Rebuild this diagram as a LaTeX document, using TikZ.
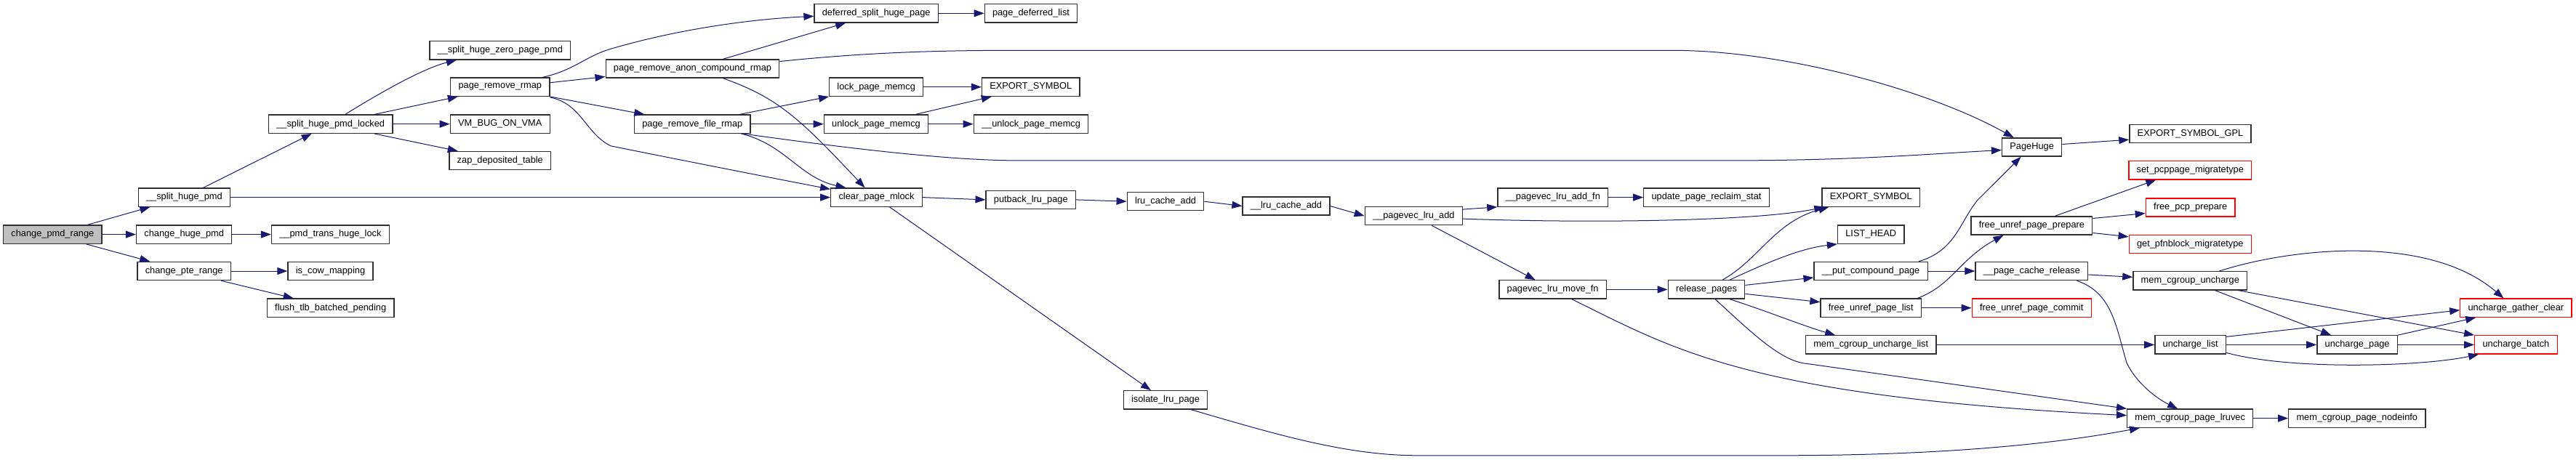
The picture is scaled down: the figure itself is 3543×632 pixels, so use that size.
\documentclass[tikz,border=0pt]{standalone}
\usepackage{fontspec}
\setmainfont{Liberation Sans}
\usetikzlibrary{calc,arrows.meta}
\definecolor{callblue}{HTML}{191970}
\definecolor{curgray}{HTML}{BFBFBF}
\definecolor{missred}{HTML}{FF0000}
\definecolor{boxline}{HTML}{303030}
\tikzset{
  fn/.style={draw=boxline,fill=white,line width=0.65pt,inner xsep=5.4pt,inner ysep=0pt,
             minimum height=12.6pt,font=\fontsize{6.4}{7.7}\selectfont},
  fnred/.style={fn,draw=missred},
  fncur/.style={fn,fill=curgray},
  call/.style={draw=callblue,line width=0.5pt,-{Triangle[length=7pt,width=5pt,fill=callblue]}},
}
\newcommand{\fnbox}[5]{\node[#1] (#2) at (#3,#4) {#5};}
\begin{document}
\begin{tikzpicture}[x=0.5pt,y=-0.5pt]
  \fill[white] (0,0) rectangle (3543,632);
  \useasboundingbox (0,0) rectangle (3543,632);
  \fnbox{fncur}{cpr}{72.4}{322.6}{change\_pmd\_range}
  \fnbox{fn}{shp}{253.4}{271.6}{\_\_split\_huge\_pmd}
  \fnbox{fn}{chp}{253.2}{322.6}{change\_huge\_pmd}
  \fnbox{fn}{cpter}{253.2}{373}{change\_pte\_range}
  \fnbox{fn}{shpl}{454.7}{170.7}{\_\_split\_huge\_pmd\_locked}
  \fnbox{fn}{pthl}{454.4}{322.6}{\_\_pmd\_trans\_huge\_lock}
  \fnbox{fn}{icm}{454.5}{373}{is\_cow\_mapping}
  \fnbox{fn}{ftbp}{454.7}{423.7}{flush\_tlb\_batched\_pending}
  \fnbox{fn}{shzp}{687.8}{69.3}{\_\_split\_huge\_zero\_page\_pmd}
  \fnbox{fn}{prr}{687.8}{119.7}{page\_remove\_rmap}
  \fnbox{fn}{vbov}{687.8}{170.7}{VM\_BUG\_ON\_VMA}
  \fnbox{fn}{zdt}{687.8}{221.1}{zap\_deposited\_table}
  \fnbox{fn}{pracr}{952.5}{94.5}{page\_remove\_anon\_compound\_rmap}
  \fnbox{fn}{prfr}{952.3}{170.7}{page\_remove\_file\_rmap}
  \fnbox{fn}{dshp}{1205.2}{18.3}{deferred\_split\_huge\_page}
  \fnbox{fn}{lpm}{1205.2}{119.7}{lock\_page\_memcg}
  \fnbox{fn}{ulpm}{1205}{170.7}{unlock\_page\_memcg}
  \fnbox{fn}{cpm}{1205.5}{271.6}{clear\_page\_mlock}
  \fnbox{fn}{pdl}{1418}{18.3}{page\_deferred\_list}
  \fnbox{fn}{exsa}{1417.8}{119.7}{EXPORT\_SYMBOL}
  \fnbox{fn}{uulpm}{1418}{170.7}{\_\_unlock\_page\_memcg}
  \fnbox{fn}{plp}{1417.8}{274.9}{putback\_lru\_page}
  \fnbox{fn}{lca}{1603}{277.2}{lru\_cache\_add}
  \fnbox{fn}{ulca}{1769}{283.5}{\_\_lru\_cache\_add}
  \fnbox{fn}{ilp}{1603}{550.4}{isolate\_lru\_page}
  \fnbox{fn}{upla}{1944.3}{297.1}{\_\_pagevec\_lru\_add}
  \fnbox{fn}{uplaf}{2135.8}{271.6}{\_\_pagevec\_lru\_add\_fn}
  \fnbox{fn}{uprs}{2347}{271.6}{update\_page\_reclaim\_stat}
  \fnbox{fn}{plmf}{2135.6}{398.4}{pagevec\_lru\_move\_fn}
  \fnbox{fn}{rp}{2347}{398.4}{release\_pages}
  \fnbox{fn}{exsb}{2573.2}{271.6}{EXPORT\_SYMBOL}
  \fnbox{fn}{lh}{2573.2}{322.6}{LIST\_HEAD}
  \fnbox{fn}{upcp}{2573.1}{373}{\_\_put\_compound\_page}
  \fnbox{fn}{fupl}{2573.2}{423.7}{free\_unref\_page\_list}
  \fnbox{fn}{mcul}{2573.2}{474.4}{mem\_cgroup\_uncharge\_list}
  \fnbox{fn}{ph}{2794.6}{202.5}{PageHuge}
  \fnbox{fn}{fupp}{2794.4}{310.5}{free\_unref\_page\_prepare}
  \fnbox{fn}{upcr}{2794.4}{373}{\_\_page\_cache\_release}
  \fnbox{fnred}{fupc}{2794.2}{423.7}{free\_unref\_page\_commit}
  \fnbox{fn}{exsg}{3012.5}{184.2}{EXPORT\_SYMBOL\_GPL}
  \fnbox{fnred}{spm}{3012.3}{234.3}{set\_pcppage\_migratetype}
  \fnbox{fnred}{fpp}{3012.7}{285.5}{free\_pcp\_prepare}
  \fnbox{fnred}{gpm}{3012.3}{335.8}{get\_pfnblock\_migratetype}
  \fnbox{fn}{mcu}{3012.3}{386.3}{mem\_cgroup\_uncharge}
  \fnbox{fn}{ul}{3012.7}{474.4}{uncharge\_list}
  \fnbox{fn}{mcpl}{3012.2}{575.6}{mem\_cgroup\_page\_lruvec}
  \fnbox{fn}{upg}{3242.1}{474.4}{uncharge\_page}
  \fnbox{fnred}{ugc}{3460.4}{423.7}{uncharge\_gather\_clear}
  \fnbox{fnred}{ub}{3460.4}{474.4}{uncharge\_batch}
  \fnbox{fn}{mcpn}{3241.8}{575.6}{mem\_cgroup\_page\_nodeinfo}
  \draw[call] ($(cpr.north)+(48,0)$) -- ($(shp.south)+(-47,0)$);
  \draw[call] (cpr.east) -- (chp.west);
  \draw[call] ($(cpr.south)+(46,0)$) -- ($(cpter.north)+(-47,0)$);
  \draw[call] ($(shp.north)+(26,0)$) -- ($(shpl.south)+(-26,0)$);
  \draw[call] (shp.east) -- (cpm.west);
  \draw[call] (chp.east) -- (pthl.west);
  \draw[call] (cpter.east) -- (icm.west);
  \draw[call] ($(cpter.south)+(51,0)$) -- ($(ftbp.north)+(-51,0)$);
  \draw[call] ($(shpl.north)+(20,0)$) .. controls (520,129.4) and (580,94.8) .. ($(shzp.south)+(-60,0)$);
  \draw[call] ($(shpl.north)+(60,0)$) -- ($(prr.south)+(-58,0)$);
  \draw[call] (shpl.east) -- (vbov.west);
  \draw[call] ($(shpl.south)+(60,0)$) -- ($(zdt.north)+(-58,0)$);
  \draw[call] ($(prr.north)+(58,0)$) .. controls (790,96.8) and (805,77.5) .. (840,67.3) .. controls (930,40.8) and (1030,26.5) .. ($(dshp.west)+(0,4)$);
  \draw[call] ($(prr.east)+(0,-6)$) -- ($(pracr.west)+(0,11)$);
  \draw[call] (prr.south east) -- ($(prfr.north)+(-66,0)$);
  \draw[call] ($(prr.south east)+(0,1)$) .. controls (800,142.7) and (805,183.5) .. (840,200.8) .. controls (900,213) and (1050,242.6) .. ($(cpm.north west)+(0,2)$);
  \draw[call] ($(pracr.north)+(42,0)$) -- ($(dshp.south)+(-42,0)$);
  \draw[call] ($(pracr.east)+(0,-10)$) .. controls (1200,71.3) and (1300,69.3) .. (1400,69.3) -- (2300,69.3) .. controls (2450,69.3) and (2650,122.3) .. ($(ph.north)+(-25,0)$);
  \draw[call] ($(pracr.south)+(42,0)$) .. controls (1070,134.5) and (1100,163.1) .. ($(cpm.north)+(-16,0)$);
  \draw[call] ($(prfr.north)+(65,0)$) -- (lpm.south west);
  \draw[call] (prfr.east) -- (ulpm.west);
  \draw[call] ($(prfr.south)+(67,0)$) .. controls (1080,198.7) and (1100,244.6) .. ($(cpm.north)+(-42,0)$);
  \draw[call] ($(prfr.south)+(69,0)$) .. controls (1150,201.8) and (1300,220.9) .. (1400,220.9) -- (2380,220.9) .. controls (2550,220.9) and (2650,212) .. ($(ph.west)+(0,4)$);
  \draw[call] (dshp.east) -- (pdl.west);
  \draw[call] (lpm.east) -- (exsa.west);
  \draw[call] ($(ulpm.north)+(54,0)$) -- ($(exsa.south)+(-54,0)$);
  \draw[call] (ulpm.east) -- (uulpm.west);
  \draw[call] (cpm.east) -- (plp.west);
  \draw[call] ($(cpm.south)+(18,0)$) -- ($(ilp.north)+(-20,0)$);
  \draw[call] (plp.east) -- (lca.west);
  \draw[call] (lca.east) -- (ulca.west);
  \draw[call] ($(ilp.south)+(35,0)$) .. controls (1750,596.2) and (1850,626.8) .. (1950,626.8) -- (2450,626.8) .. controls (2700,626.8) and (2850,606.4) .. ($(mcpl.south west)+(18,0)$);
  \draw[call] (ulca.east) -- (upla.west);
  \draw[call] ($(upla.east)+(0,-9)$) -- (uplaf.south west);
  \draw[call] ($(upla.east)+(0,4)$) .. controls (2200,307.8) and (2420,303.7) .. ($(exsb.south west)+(4,0)$);
  \draw[call] ($(upla.south)+(25,0)$) -- ($(plmf.north)+(-24,0)$);
  \draw[call] (uplaf.east) -- (uprs.west);
  \draw[call] (plmf.east) -- (rp.west);
  \draw[call] ($(plmf.south)+(26,0)$) .. controls (2300,479) and (2400,545.3) .. ($(mcpl.west)+(0,-4)$);
  \draw[call] ($(rp.north)+(22,0)$) .. controls (2420,356.7) and (2440,305.8) .. ($(exsb.south west)+(10,0)$);
  \draw[call] ($(rp.north)+(32,0)$) .. controls (2440,356.7) and (2480,341.4) .. (lh.south west);
  \draw[call] ($(rp.east)+(0,-6)$) -- ($(upcp.west)+(0,9)$);
  \draw[call] ($(rp.east)+(0,6)$) -- ($(fupl.west)+(0,-8)$);
  \draw[call] ($(rp.south)+(32,0)$) .. controls (2430,428) and (2480,448.4) .. ($(mcul.north)+(-49,0)$);
  \draw[call] ($(rp.south)+(12,0)$) .. controls (2410,458.6) and (2450,497.4) .. (2485,500.4) -- (mcpl.north west);
  \draw[call] ($(upcp.north)+(66,0)$) .. controls (2690,344.5) and (2695,305.8) .. (2720,275.2) -- ($(ph.south)+(-15,0)$);
  \draw[call] (upcp.east) -- (upcr.west);
  \draw[call] ($(fupl.north)+(64,0)$) .. controls (2685,392.4) and (2695,356.7) .. ($(fupp.south)+(-39,0)$);
  \draw[call] (fupl.east) -- (fupc.west);
  \draw[call] (mcul.east) -- (ul.west);
  \draw[call] ($(ph.east)+(0,-4)$) -- ($(exsg.west)+(0,8)$);
  \draw[call] ($(fupp.north)+(32,0)$) -- ($(spm.south)+(-47,0)$);
  \draw[call] ($(fupp.east)+(0,-10)$) -- ($(fpp.west)+(0,8)$);
  \draw[call] ($(fupp.east)+(0,10)$) -- ($(gpm.west)+(0,-10)$);
  \draw[call] ($(upcr.east)+(0,5)$) -- ($(mcu.west)+(0,-5)$);
  \draw[call] ($(upcr.south)+(62,0)$) .. controls (2905,402.6) and (2910,448.4) .. (2925,499.4) .. controls (2940,530) and (2970,550.4) .. ($(mcpl.north)+(-17,0)$);
  \draw[call] ($(mcu.north)+(40,0)$) .. controls (3150,341.4) and (3340,321) .. ($(ugc.north)+(-17,0)$);
  \draw[call] ($(mcu.south)+(34,0)$) -- ($(upg.north)+(-36,0)$);
  \draw[call] ($(mcu.south)+(66,0)$) -- (ub.north west);
  \draw[call] ($(ul.east)+(0,-11)$) -- ($(ugc.west)+(0,3)$);
  \draw[call] (ul.east) -- (upg.west);
  \draw[call] ($(ul.east)+(0,11)$) .. controls (3150,509.6) and (3330,504.5) .. ($(ub.south west)+(6,0)$);
  \draw[call] (upg.north east) -- ($(ugc.south west)+(22,0)$);
  \draw[call] (upg.east) -- (ub.west);
  \draw[call] (mcpl.east) -- (mcpn.west);
\end{tikzpicture}
\end{document}
